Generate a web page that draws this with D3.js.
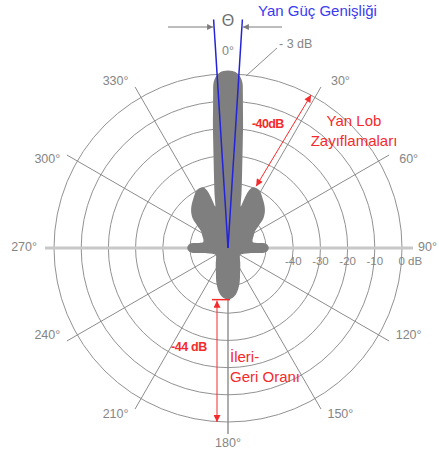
<!DOCTYPE html>
<html>
<head>
<meta charset="utf-8">
<script src="https://cdn.jsdelivr.net/npm/d3@7"></script>
<style>
  html, body { margin: 0; padding: 0; background: #fff; }
  svg text { font-family: "Liberation Sans", Arial, sans-serif; }
</style>
</head>
<body>
<div id="mainGraphic"></div>
<script>
let svgWidth = 439
let svgHeight = 460

// radiation pattern, right half (angle in degrees, level in dB); the left half is its mirror
let patternAngles = [0, 1.5, 3, 4, 5, 5.5, 6, 7, 8, 9, 10.5, 12, 14, 16, 17, 18.5, 20, 22, 25, 28, 31, 35, 40, 45, 50, 54, 58, 65, 72, 77, 80, 82, 84, 87, 90, 93, 96, 98, 100, 104, 110, 120, 130, 140, 150, 155, 162, 170, 175, 180]
let patternDb = [1.3, 1.1, 0.4, -0.8, -3, -7, -11.5, -18.5, -25, -30, -35.5, -39.5, -43.5, -47, -48, -44.5, -41.5, -40, -39.6, -39.8, -40.5, -41.8, -43.2, -44.8, -47, -50, -52.3, -53.6, -54.5, -54.6, -53.2, -51, -49.8, -49.2, -49, -49.2, -49.8, -51, -53.2, -56, -57.8, -58.8, -58.3, -57, -55, -53.5, -50.3, -46.8, -45.5, -45]

let ringDb = [-50, -40, -30, -20, -10, 0]
let dbTicks = [-40, -30, -20, -10, 0]
let dbTickLabels = ["-40", "-30", "-20", "-10", "0 dB"]
let spokeAngles = [30, 60, 120, 150, 180, 210, 240, 300, 330]
let degreeLabels = [0, 30, 60, 90, 120, 150, 180, 210, 240, 270, 300, 330]

let halfPowerAngle = 3.6
let sideLobeArrow = [[28.5, 0], [24.5, -39]]
let frontBackDb = -45

renderPattern();

function renderPattern(){
  let graphic = d3.select("#mainGraphic")
    .append("svg")
      .attr("width", svgWidth)
      .attr("height", svgHeight)

  let cx = 228, cy = 248
  let rScale = d3.scaleLinear().domain([-64, 0]).range([0, 174])
  let rad = (a) => a * Math.PI / 180
  let polar = (a, r) => [cx + r * Math.sin(rad(a)), cy - r * Math.cos(rad(a))]

  let defs = graphic.append("defs")
  function marker(id, color, w, h) {
    defs.append("marker")
      .attr("id", id)
      .attr("viewBox", "0 0 10 10")
      .attr("refX", 10).attr("refY", 5)
      .attr("markerWidth", w).attr("markerHeight", h)
      .attr("markerUnits", "userSpaceOnUse")
      .attr("orient", "auto-start-reverse")
      .append("path")
        .attr("d", "M0,0 L10,5 L0,10 z")
        .attr("fill", color)
  }
  marker("redHead", "#f52a2a", 9, 7)
  marker("grayHead", "#7a7a7a", 8, 6)

  let plot = graphic.append("g").attr("transform", `translate(${cx},${cy})`)

  // grid rings
  plot.selectAll("circle.ring")
    .data(ringDb)
    .enter()
    .append("circle")
      .attr("class", "ring")
      .attr("r", (d) => rScale(d))
      .attr("fill", "none")
      .attr("stroke", "#929292")
      .attr("stroke-width", 1)

  // spokes
  plot.selectAll("line.spoke")
    .data(spokeAngles)
    .enter()
    .append("line")
      .attr("class", "spoke")
      .attr("x1", 0).attr("y1", 0)
      .attr("x2", (d) => 186 * Math.sin(rad(d)))
      .attr("y2", (d) => -186 * Math.cos(rad(d)))
      .attr("stroke", "#8c8c8c")
      .attr("stroke-width", (d) => d == 180 ? 1.4 : 1)

  // 90 / 270 axis
  plot.append("line")
    .attr("x1", -183).attr("x2", 185)
    .attr("y1", 0).attr("y2", 0)
    .attr("stroke", "#c8c8c8")
    .attr("stroke-width", 3)

  // dB tick labels
  plot.selectAll("text.dbTick")
    .data(dbTicks)
    .enter()
    .append("text")
      .attr("class", "dbTick")
      .attr("x", (d, i) => i == dbTicks.length - 1 ? rScale(d) - 3.5 : rScale(d))
      .attr("y", 14)
      .attr("text-anchor", (d, i) => i == dbTicks.length - 1 ? "start" : "middle")
      .attr("dominant-baseline", "middle")
      .attr("font-size", 11.5)
      .attr("fill", "#858585")
      .text((d, i) => dbTickLabels[i])

  // pattern
  let patternHalf = patternAngles.map((a, i) => ({a: a, db: patternDb[i]}))
  let patternFull = patternHalf.concat(
    patternHalf.slice(1, -1).reverse().map((d) => ({a: 360 - d.a, db: d.db})))
  let patternLine = d3.lineRadial()
    .angle((d) => rad(d.a))
    .radius((d) => rScale(d.db))
    .curve(d3.curveCatmullRomClosed.alpha(0.5))
  plot.append("path")
    .datum(patternFull)
    .attr("d", patternLine)
    .attr("fill", "#7f7f7f")

  // degree labels
  graphic.selectAll("text.deg")
    .data(degreeLabels)
    .enter()
    .append("text")
      .attr("class", "deg")
      .each(function(d) {
        let t = d3.select(this), p, anchor = "middle"
        if (d == 0 || d == 180) p = polar(d, 196)
        else if (d == 90) { p = polar(d, 190); anchor = "start" }
        else if (d == 270) { p = polar(d, 191); anchor = "end" }
        else {
          let shift = d < 180 ? 4 * Math.sign(90 - d) : 4 * Math.sign(270 - d)
          p = polar(d + shift, 201)
        }
        t.attr("x", p[0]).attr("y", p[1]).attr("text-anchor", anchor)
      })
      .attr("dominant-baseline", "middle")
      .attr("font-size", 12.5)
      .attr("fill", "#858585")
      .text((d) => d + "°")

  // half power beamwidth lines
  graphic.selectAll("line.hpbw")
    .data([-halfPowerAngle, halfPowerAngle])
    .enter()
    .append("line")
      .attr("class", "hpbw")
      .attr("x1", cx).attr("y1", cy)
      .attr("x2", (d) => polar(d, 229)[0])
      .attr("y2", (d) => polar(d, 229)[1])
      .attr("stroke", "#2323d8")
      .attr("stroke-width", 1.5)

  // theta dimension arrows
  let yArrow = 27
  let xLeft = cx - (cy - yArrow) * Math.tan(rad(halfPowerAngle))
  let xRight = cx + (cy - yArrow) * Math.tan(rad(halfPowerAngle))
  graphic.append("line")
    .attr("x1", 168).attr("y1", yArrow).attr("x2", xLeft - 1).attr("y2", yArrow)
    .attr("stroke", "#7a7a7a").attr("stroke-width", 1)
    .attr("marker-end", "url(#grayHead)")
  graphic.append("line")
    .attr("x1", 282).attr("y1", yArrow).attr("x2", xRight + 1).attr("y2", yArrow)
    .attr("stroke", "#7a7a7a").attr("stroke-width", 1)
    .attr("marker-end", "url(#grayHead)")
  graphic.append("text")
    .attr("x", cx).attr("y", 22)
    .attr("text-anchor", "middle")
    .attr("dominant-baseline", "middle")
    .attr("font-size", 16)
    .attr("fill", "#6e6e6e")
    .text("Θ")
  graphic.append("text")
    .attr("x", 258).attr("y", 12)
    .attr("dominant-baseline", "middle")
    .attr("font-size", 15)
    .attr("fill", "#3a3af0")
    .text("Yan Güç Genişliği")

  // -3 dB leader
  graphic.append("line")
    .attr("x1", 277).attr("y1", 48).attr("x2", 246).attr("y2", 76)
    .attr("stroke", "#8a8a8a").attr("stroke-width", 1)
  graphic.append("text")
    .attr("x", 279).attr("y", 45)
    .attr("dominant-baseline", "middle")
    .attr("font-size", 12.5)
    .attr("fill", "#858585")
    .text("- 3 dB")

  // side lobe attenuation
  let sA = polar(sideLobeArrow[0][0], rScale(sideLobeArrow[0][1]))
  let sB = polar(sideLobeArrow[1][0], rScale(sideLobeArrow[1][1]))
  graphic.append("line")
    .attr("x1", sA[0]).attr("y1", sA[1]).attr("x2", sB[0]).attr("y2", sB[1])
    .attr("stroke", "#f52a2a").attr("stroke-width", 1)
    .attr("marker-start", "url(#redHead)")
    .attr("marker-end", "url(#redHead)")
  graphic.append("text")
    .attr("x", 252).attr("y", 125)
    .attr("dominant-baseline", "middle")
    .attr("font-size", 12.5).attr("font-weight", "bold")
    .attr("letter-spacing", -0.6)
    .attr("fill", "#f52a2a")
    .text("-40dB")
  graphic.append("text")
    .attr("x", 354).attr("y", 122)
    .attr("text-anchor", "middle").attr("dominant-baseline", "middle")
    .attr("font-size", 15)
    .attr("fill", "#f52a2a")
    .text("Yan Lob")
  graphic.append("text")
    .attr("x", 354).attr("y", 142)
    .attr("text-anchor", "middle").attr("dominant-baseline", "middle")
    .attr("font-size", 15)
    .attr("fill", "#f52a2a")
    .text("Zayıflamaları")

  // front to back ratio
  let xBack = 217
  let yTop = cy + rScale(frontBackDb)
  let yBottom = cy + rScale(0)
  graphic.append("line")
    .attr("x1", xBack - 5).attr("x2", cx + 2)
    .attr("y1", yTop).attr("y2", yTop)
    .attr("stroke", "#f52a2a").attr("stroke-width", 1.5)
  graphic.append("line")
    .attr("x1", xBack).attr("y1", yTop + 1).attr("x2", xBack).attr("y2", yBottom)
    .attr("stroke", "#f52a2a").attr("stroke-width", 1)
    .attr("marker-start", "url(#redHead)")
    .attr("marker-end", "url(#redHead)")
  graphic.append("text")
    .attr("x", 171).attr("y", 348)
    .attr("dominant-baseline", "middle")
    .attr("font-size", 12.5).attr("font-weight", "bold")
    .attr("letter-spacing", -0.4)
    .attr("fill", "#f52a2a")
    .text("-44 dB")
  graphic.append("text")
    .attr("x", 230).attr("y", 358)
    .attr("dominant-baseline", "middle")
    .attr("font-size", 15)
    .attr("fill", "#f52a2a")
    .text("İleri-")
  graphic.append("text")
    .attr("x", 230).attr("y", 378)
    .attr("dominant-baseline", "middle")
    .attr("font-size", 15)
    .attr("fill", "#f52a2a")
    .text("Geri Oranı")
}
</script>
</body>
</html>
